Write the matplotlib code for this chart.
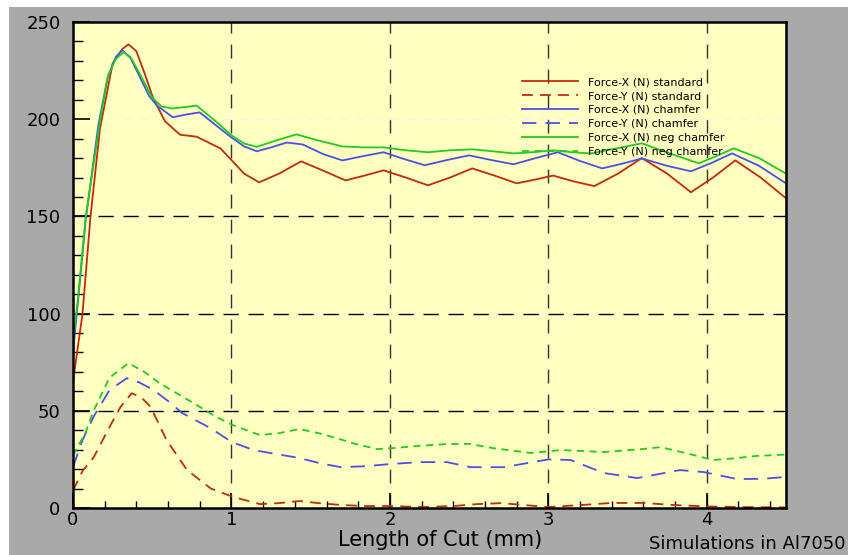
import matplotlib
matplotlib.use('Agg')
import matplotlib.pyplot as plt
from matplotlib.patches import Rectangle
from matplotlib.ticker import MultipleLocator

# Force-X (N) standard
x_fx_std = [0, 0.06, 0.11, 0.17, 0.25, 0.31, 0.35, 0.40, 0.45, 0.505, 0.58, 0.676, 0.78, 0.88, 0.93, 1.0,
            1.08, 1.175, 1.30, 1.44, 1.58, 1.72, 1.84, 1.96, 2.10, 2.24, 2.38, 2.52, 2.66, 2.80, 2.92, 3.03,
            3.16, 3.29, 3.44, 3.59, 3.75, 3.90, 4.04, 4.18, 4.34, 4.5]
fx_std = [65, 100, 149.5, 195, 228.6, 236, 238.5, 235, 224, 211, 199, 192, 191, 187, 185, 179,
          172, 167.5, 172, 178.3, 173.5, 168.5, 171, 173.7, 170, 166, 170, 174.7, 171, 167, 169, 171,
          168, 165.6, 172, 180, 172, 162.4, 170, 178.8, 170, 159.3]

# Force-X (N) chamfer
x_fx_ch = [0, 0.03, 0.08, 0.16, 0.22, 0.27, 0.31, 0.36, 0.42, 0.48, 0.53, 0.63, 0.72, 0.80, 0.90, 1.0,
           1.08, 1.16, 1.25, 1.35, 1.45, 1.58, 1.70, 1.83, 1.96, 2.09, 2.22, 2.36, 2.50, 2.64, 2.78, 2.92,
           3.06, 3.20, 3.34, 3.46, 3.59, 3.75, 3.90, 4.03, 4.16, 4.33, 4.5]
fx_ch = [80, 105, 148, 197, 222, 232, 235.4, 232, 222, 212, 207, 201, 202.5, 203.5, 197, 190.6,
         186, 183.5, 185.5, 188, 187, 182, 178.8, 181, 183, 179.5, 176.3, 179, 181.4, 179, 176.8, 180,
         183, 178.5, 174.7, 177, 179.8, 176, 173.2, 177.5, 182.4, 176, 167]

# Force-X (N) neg chamfer
x_fx_neg = [0, 0.03, 0.08, 0.17, 0.22, 0.27, 0.32, 0.37, 0.43, 0.50, 0.56, 0.63, 0.78, 0.90, 1.0,
            1.08, 1.16, 1.28, 1.41, 1.55, 1.70, 1.83, 1.96, 2.10, 2.24, 2.38, 2.52, 2.65, 2.78, 2.90, 3.03,
            3.15, 3.27, 3.43, 3.59, 3.78, 3.95, 4.06, 4.17, 4.33, 4.5]
fx_neg = [86, 107, 149.5, 199, 222, 231, 234.5, 231, 222, 211, 206.5, 205.5, 207, 199, 191.7,
          187.5, 185.8, 189, 192.2, 189, 186, 185.5, 185.5, 184, 183, 184, 184.5, 183.5, 182.4, 183, 184,
          183, 182.4, 185, 187.6, 182, 177.3, 181, 185, 180, 172]

# Force-Y (N) standard
x_fy_std = [0, 0.06, 0.13, 0.23, 0.30, 0.37, 0.43, 0.49, 0.59, 0.72, 0.87, 1.01, 1.18, 1.30, 1.43, 1.55,
            1.70, 1.85, 2.0, 2.2, 2.4, 2.55, 2.70, 2.85, 3.0, 3.2, 3.4, 3.6, 3.8, 4.0, 4.2, 4.5]
fy_std = [9, 19, 26, 41.6, 52, 59, 57, 52, 35, 19.5, 10, 5.7, 2, 2.5, 3.6, 2.5,
          1.5, 1, 1, 0.5, 1, 2, 2.5, 1.5, 0.5, 1.5, 2.6, 2.6, 1.5, 0.8, 0.5, 0.3]

# Force-Y (N) chamfer
x_fy_ch = [0, 0.06, 0.13, 0.23, 0.34, 0.42, 0.51, 0.60, 0.69, 0.87, 1.0, 1.14, 1.30, 1.43, 1.56, 1.69,
           1.85, 2.0, 2.19, 2.36, 2.51, 2.72, 2.86, 3.0, 3.14, 3.35, 3.56, 3.70, 3.83, 3.98, 4.19, 4.35, 4.5]
fy_ch = [21, 35, 47, 60.6, 66.8, 64.5, 60.6, 55, 48.8, 41, 34, 29.8, 27.5, 25.7, 23, 21,
         21.5, 22.6, 23.6, 23.6, 21, 21, 23, 25, 24.7, 18, 15.4, 17.5, 19.5, 18.5, 14.9, 15, 16]

# Force-Y (N) neg chamfer
x_fy_neg = [0, 0.08, 0.13, 0.23, 0.35, 0.45, 0.55, 0.76, 0.90, 1.01, 1.18, 1.30, 1.43, 1.55, 1.64, 1.78,
            1.92, 2.05, 2.17, 2.36, 2.50, 2.65, 2.89, 3.08, 3.35, 3.55, 3.71, 3.88, 4.04, 4.17, 4.30, 4.5]
fy_neg = [27, 39, 50, 67, 74.5, 70, 64, 54, 47, 42.6, 37.5, 38.5, 40.6, 38.5, 36.5, 33,
          30.3, 31, 31.9, 32.9, 33, 30.8, 28.3, 29.8, 28.8, 30, 31.3, 28, 24.7, 25.5, 26.7, 27.5]

red = '#c42a0c'
blue = '#4b50e6'
green = '#20cc20'

fig = plt.figure(figsize=(8.48, 5.55), dpi=100)
fig.patch.set_facecolor('white')
bg = Rectangle((9 / 848, 0), 1, 548 / 555, transform=fig.transFigure,
               facecolor='#a9a9a9', edgecolor='none', zorder=-10)
fig.add_artist(bg)

ax = fig.add_axes([73 / 848, 47 / 555, 713 / 848, 486 / 555])
ax.set_facecolor('#ffffc2')

# grid lines drawn by hand at the major ticks
for gx in [1, 2, 3, 4]:
    ax.axvline(gx, color='#333333', lw=1.0, dashes=(10, 8), zorder=1)
for gy in [50, 100, 150]:
    ax.axhline(gy, color='black', lw=1.0, dashes=(11, 7), zorder=1)
ax.axhline(200, color='#f4f4e4', lw=1.0, dashes=(6, 6), zorder=1)

ax.plot(x_fx_std, fx_std, color=red, lw=1.3, label='Force-X (N) standard')
ax.plot(x_fy_std, fy_std, color=red, lw=1.3, dashes=(6, 4), label='Force-Y (N) standard')
ax.plot(x_fx_ch, fx_ch, color=blue, lw=1.3, label='Force-X (N) chamfer')
ax.plot(x_fy_ch, fy_ch, color=blue, lw=1.3, dashes=(8, 5), label='Force-Y (N) chamfer')
ax.plot(x_fx_neg, fx_neg, color=green, lw=1.3, label='Force-X (N) neg chamfer')
ax.plot(x_fy_neg, fy_neg, color=green, lw=1.3, dashes=(4, 3), label='Force-Y (N) neg chamfer')

ax.set_xlim(0, 4.5)
ax.set_ylim(0, 250)
ax.xaxis.set_major_locator(MultipleLocator(1))
ax.xaxis.set_minor_locator(MultipleLocator(0.2))
ax.yaxis.set_major_locator(MultipleLocator(50))
ax.yaxis.set_minor_locator(MultipleLocator(10))
ax.tick_params(which='both', direction='in', top=False, right=False, colors='black')
ax.tick_params(axis='y', which='major', length=12, width=1.2, labelsize=13, pad=9)
ax.tick_params(axis='y', which='minor', length=7, width=1.0)
ax.tick_params(axis='x', which='major', length=11, width=1.2, labelsize=13, pad=2)
ax.tick_params(axis='x', which='minor', length=5, width=1.0)
for s in ax.spines.values():
    s.set_linewidth(1.8)
    s.set_color('black')

ax.set_xlabel('Length of Cut (mm)', fontsize=15)
ax.xaxis.set_label_coords(0.515, -0.0455)
ax.xaxis.label.set_va('top')

leg = ax.legend(loc='upper right', bbox_to_anchor=(0.921, 0.898), frameon=False, fontsize=8,
                handlelength=5.0, handletextpad=0.9, labelspacing=0.35, borderpad=0)

fig.text(0.997, 0.004, 'Simulations in Al7050', ha='right', va='bottom', fontsize=13)

fig.savefig('out.png', dpi=100, facecolor=fig.get_facecolor())
